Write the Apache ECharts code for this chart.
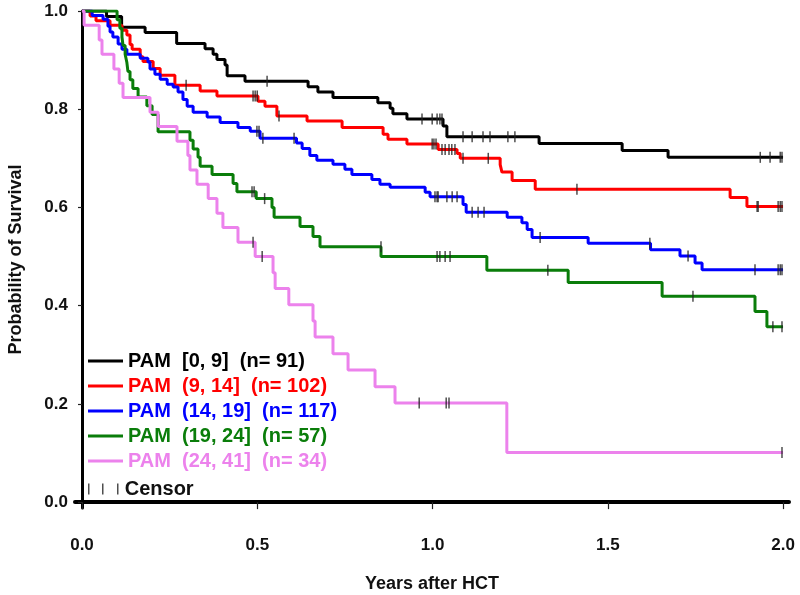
<!DOCTYPE html>
<html>
<head>
<meta charset="utf-8">
<script src="https://cdn.jsdelivr.net/npm/echarts@6/dist/echarts.min.js"></script>
<style>html,body{margin:0;padding:0;background:#fff;}#c{width:800px;height:595px;}</style>
</head>
<body>
<div id="c"></div>
<script>
// ---- data (time in years, survival probability) ----
const seriesNames = [
  'PAM  [0, 9]  (n= 91)',
  'PAM  (9, 14]  (n= 102)',
  'PAM  (14, 19]  (n= 117)',
  'PAM  (19, 24]  (n= 57)',
  'PAM  (24, 41]  (n= 34)'
];
const seriesColors = ['#000000', '#ff0000', '#0000ff', '#0a7d0a', '#ec82ec'];
const xTicks = [0, 0.5, 1.0, 1.5, 2.0];
const yTicks = [0, 0.2, 0.4, 0.6, 0.8, 1.0];

const black = [[0,1],[0.070,0.989],[0.113,0.967],[0.180,0.956],[0.270,0.934],[0.351,0.923],[0.374,0.912],[0.385,0.901],[0.408,0.890],[0.414,0.868],[0.465,0.857],[0.645,0.846],[0.673,0.835],[0.716,0.824],[0.844,0.813],[0.879,0.802],[0.887,0.791],[0.927,0.780],[1.030,0.766],[1.041,0.744],[1.304,0.730],[1.541,0.716],[1.672,0.702],[2.0,0.702]];
const blackCensor = [[0.528,0.857],[0.970,0.780],[0.999,0.780],[1.013,0.780],[1.021,0.780],[1.027,0.780],[1.087,0.744],[1.113,0.744],[1.144,0.744],[1.164,0.744],[1.215,0.744],[1.235,0.744],[1.935,0.702],[1.963,0.702],[1.992,0.702],[1.997,0.702]];

const red = [[0,1],[0.023,0.990],[0.040,0.980],[0.080,0.971],[0.114,0.961],[0.128,0.951],[0.137,0.932],[0.143,0.922],[0.166,0.907],[0.174,0.897],[0.203,0.883],[0.223,0.869],[0.265,0.849],[0.337,0.837],[0.385,0.827],[0.502,0.816],[0.522,0.806],[0.556,0.786],[0.642,0.776],[0.742,0.763],[0.859,0.749],[0.873,0.739],[0.927,0.729],[1.016,0.718],[1.070,0.710],[1.079,0.700],[1.193,0.687],[1.198,0.672],[1.227,0.655],[1.293,0.637],[1.849,0.620],[1.897,0.602],[2.0,0.602]];
const redCensor = [[0.297,0.849],[0.488,0.827],[0.494,0.827],[0.500,0.827],[0.562,0.786],[0.999,0.729],[1.004,0.729],[1.010,0.729],[1.027,0.718],[1.036,0.718],[1.047,0.718],[1.055,0.718],[1.064,0.718],[1.087,0.700],[1.159,0.700],[1.412,0.637],[1.926,0.602],[1.929,0.602],[1.986,0.602],[1.992,0.602],[1.997,0.602]];

const blue = [[0,1],[0.029,0.991],[0.060,0.983],[0.074,0.969],[0.080,0.957],[0.088,0.947],[0.103,0.933],[0.114,0.922],[0.128,0.912],[0.166,0.904],[0.188,0.896],[0.194,0.882],[0.208,0.871],[0.223,0.861],[0.243,0.851],[0.260,0.845],[0.274,0.835],[0.288,0.820],[0.300,0.806],[0.317,0.794],[0.357,0.784],[0.394,0.773],[0.445,0.763],[0.480,0.755],[0.508,0.741],[0.612,0.731],[0.628,0.720],[0.650,0.706],[0.670,0.696],[0.716,0.688],[0.750,0.678],[0.770,0.667],[0.827,0.657],[0.850,0.647],[0.879,0.641],[0.979,0.631],[0.993,0.622],[1.087,0.606],[1.096,0.590],[1.213,0.580],[1.255,0.569],[1.270,0.555],[1.284,0.539],[1.444,0.527],[1.622,0.514],[1.706,0.501],[1.749,0.487],[1.769,0.473],[2.0,0.473]];
const blueCensor = [[0.499,0.755],[0.505,0.755],[0.516,0.741],[0.605,0.741],[1.007,0.622],[1.013,0.622],[1.016,0.622],[1.041,0.622],[1.056,0.622],[1.070,0.622],[1.113,0.590],[1.130,0.590],[1.147,0.590],[1.307,0.539],[1.620,0.527],[1.729,0.501],[1.920,0.473],[1.986,0.473],[1.992,0.473],[1.997,0.473]];

const green = [[0,1],[0.100,0.982],[0.108,0.965],[0.114,0.947],[0.117,0.930],[0.123,0.912],[0.128,0.895],[0.131,0.877],[0.137,0.860],[0.145,0.842],[0.160,0.825],[0.185,0.807],[0.200,0.789],[0.217,0.754],[0.308,0.737],[0.317,0.719],[0.331,0.702],[0.337,0.684],[0.371,0.667],[0.431,0.649],[0.442,0.632],[0.497,0.618],[0.542,0.600],[0.548,0.580],[0.622,0.561],[0.659,0.541],[0.679,0.520],[0.853,0.500],[1.155,0.472],[1.387,0.447],[1.655,0.419],[1.920,0.388],[1.954,0.357],[2.0,0.357]];
const greenCensor = [[0.485,0.632],[0.491,0.632],[0.521,0.618],[0.853,0.520],[1.013,0.500],[1.021,0.500],[1.036,0.500],[1.050,0.500],[1.329,0.472],[1.743,0.419],[1.971,0.357],[1.997,0.357]];

const pink = [[0,1],[0.006,0.971],[0.049,0.941],[0.057,0.912],[0.091,0.882],[0.106,0.853],[0.117,0.824],[0.194,0.794],[0.217,0.765],[0.271,0.735],[0.302,0.706],[0.308,0.676],[0.328,0.647],[0.360,0.618],[0.385,0.588],[0.402,0.559],[0.445,0.529],[0.494,0.500],[0.545,0.467],[0.551,0.435],[0.590,0.402],[0.659,0.369],[0.665,0.336],[0.716,0.302],[0.759,0.269],[0.836,0.235],[0.893,0.202],[1.212,0.101],[2.0,0.101]];
const pinkCensor = [[0.488,0.529],[0.514,0.500],[0.962,0.202],[1.039,0.202],[1.047,0.202],[1.997,0.101]];

const curves = [black, red, blue, green, pink];
const censors = [blackCensor, redCensor, blueCensor, greenCensor, pinkCensor];

// ---- chart ----
const FONT = '"Liberation Sans", Arial, sans-serif';
const chart = echarts.init(document.getElementById('c'));
const series = curves.map((d, i) => ({
  name: seriesNames[i], type: 'line', step: 'end', data: d,
  symbol: 'none', color: seriesColors[i],
  lineStyle: { width: 3, color: seriesColors[i] }, z: 2 + i, silent: true
}));
series.push({
  name: 'Censor', type: 'scatter', data: [].concat(...censors),
  symbol: 'rect', symbolSize: [1.5, 11], itemStyle: { color: '#222' }, z: 20, silent: true
});

chart.setOption({
  animation: false,
  backgroundColor: '#fff',
  grid: { left: 75, right: 11, top: 11, bottom: 87, containLabel: false, outerBoundsMode: 'none' },
  xAxis: {
    type: 'value', min: -0.02, max: 2.017,
    name: 'Years after HCT', nameLocation: 'middle', nameGap: 67,
    nameTextStyle: { fontFamily: FONT, fontSize: 18, fontWeight: 'bold', color: '#111' },
    axisLine: { show: true, lineStyle: { color: '#000', width: 4 } },
    axisTick: { show: true, customValues: xTicks, length: 7, lineStyle: { color: '#222', width: 1.2 } },
    axisLabel: { customValues: xTicks, formatter: v => v.toFixed(1), margin: 29,
      fontFamily: FONT, fontSize: 17, fontWeight: 'bold', color: '#111' },
    splitLine: { show: false }
  },
  yAxis: {
    type: 'value', min: -0.012, max: 1.0,
    name: 'Probability of Survival', nameLocation: 'middle', nameGap: 50,
    nameTextStyle: { fontFamily: FONT, fontSize: 18, fontWeight: 'bold', color: '#111' },
    axisLine: { show: true, lineStyle: { color: '#000', width: 3 } },
    axisTick: { show: true, customValues: yTicks, length: 4, lineStyle: { color: '#222', width: 1.2 } },
    axisLabel: { customValues: yTicks, formatter: v => v.toFixed(1), margin: 7,
      fontFamily: FONT, fontSize: 17, fontWeight: 'bold', color: '#111' },
    splitLine: { show: false }
  },
  legend: [{
    orient: 'vertical', left: 88, top: 351, padding: 0,
    icon: 'rect', itemWidth: 35, itemHeight: 3, itemGap: 5,
    textStyle: { fontFamily: FONT, fontSize: 20, fontWeight: 'bold', lineHeight: 20 },
    selectedMode: false,
    data: seriesNames.map((n, i) => ({ name: n, textStyle: { color: seriesColors[i] } }))
  }, {
    orient: 'vertical', left: 88, top: 479, padding: 0,
    itemWidth: 33, itemHeight: 11, selectedMode: false,
    textStyle: { fontFamily: FONT, fontSize: 20, fontWeight: 'bold', lineHeight: 20, color: '#111' },
    data: [{ name: 'Censor', icon: 'path://M0,0h1.5v11h-1.5z M14,0h1.5v11h-1.5z M29,0h1.5v11h-1.5z', itemStyle: { color: '#222' } }]
  }],
  series: series
});
</script>
</body>
</html>
